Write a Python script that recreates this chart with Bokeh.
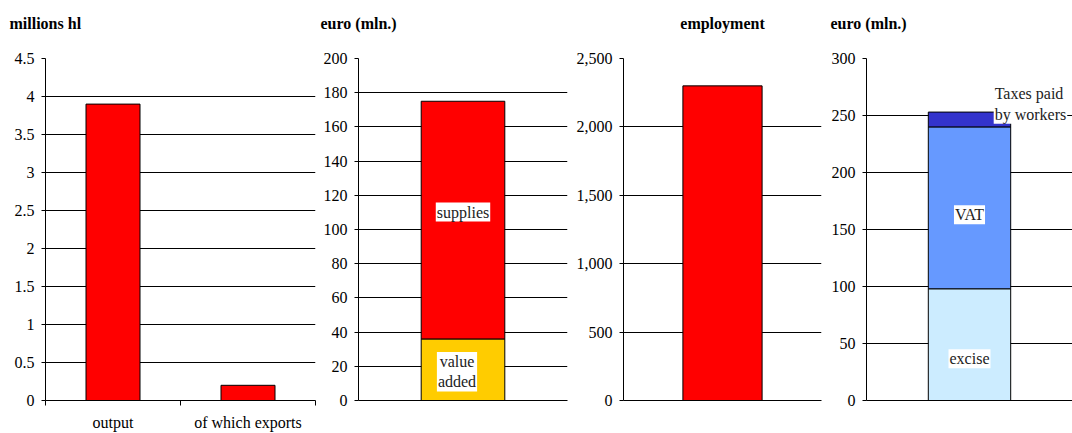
import numpy as np
from bokeh.plotting import figure
from bokeh.models import Range1d, FixedTicker, NumeralTickFormatter, Label
from bokeh.layouts import row
from bokeh.embed import file_html
from bokeh.resources import INLINE

# ---------------- data ----------------
vol_categories = ["output", "of which exports"]
vol_values = [3.9, 0.2]
vol_ticks = [0, 0.5, 1, 1.5, 2, 2.5, 3, 3.5, 4, 4.5]

rev_segments = ["value\nadded", "supplies"]
rev_values = [36, 139]
rev_ticks = [0, 20, 40, 60, 80, 100, 120, 140, 160, 180, 200]

emp_values = [2300]
emp_ticks = [0, 500, 1000, 1500, 2000, 2500]

tax_segments = ["excise", "VAT", "Taxes paid\nby workers"]
tax_values = [98, 142, 13]
tax_ticks = [0, 50, 100, 150, 200, 250, 300]

# ---------------- style ----------------
SERIF = "Liberation Serif"
H = 433
TOP = 58
BOTTOM = 32
BAR_W = 0.4
FS = "16px"


def make_fig(width, left, right, x_end, ticks, fmt, title, title_x,
             title_align="left"):
    p = figure(width=width, height=H, x_range=Range1d(0, x_end),
               y_range=Range1d(0, ticks[-1]), output_backend="svg",
               toolbar_location=None, min_border_left=left,
               min_border_right=right, min_border_top=TOP,
               min_border_bottom=BOTTOM)
    p.outline_line_color = None
    p.background_fill_color = "white"
    p.border_fill_color = "white"
    tk = FixedTicker(ticks=ticks)
    p.yaxis.ticker = tk
    p.ygrid.ticker = tk
    p.yaxis.formatter = fmt
    p.yaxis.axis_line_color = "black"
    p.yaxis.major_tick_line_color = "black"
    p.yaxis.major_tick_out = 4
    p.yaxis.major_tick_in = 0
    p.yaxis.minor_tick_line_color = None
    p.yaxis.major_label_text_font = SERIF
    p.yaxis.major_label_text_font_size = FS
    p.yaxis.major_label_text_color = "black"
    p.yaxis.major_label_standoff = 7
    p.xgrid.grid_line_color = None
    p.ygrid.grid_line_color = "black"
    p.ygrid.grid_line_alpha = 1.0
    p.ygrid.grid_line_width = 1
    p.xaxis.axis_line_color = "black"
    # trailing newline keeps an empty second line that lifts the title up
    p.title.text = title + "\n"
    p.title.align = title_align
    p.title.text_font = SERIF
    p.title.text_font_size = FS
    p.title.text_font_style = "bold"
    p.title.text_color = "black"
    p.title.standoff = 20
    if title_align == "left":
        p.title.offset = -left + title_x
    return p


def no_x_labels(p):
    p.xaxis.ticker = FixedTicker(ticks=[])
    p.xaxis.major_label_text_font_size = "0px"
    p.xaxis.major_tick_line_color = None
    p.xaxis.minor_tick_line_color = None
    p.xaxis.major_tick_out = 0
    p.xaxis.minor_tick_out = 0


def seg_label(p, x, y, text, x_off=0, y_off=0, align="center"):
    p.add_layout(Label(x=x, y=y, text=text, x_offset=x_off, y_offset=y_off,
                       text_align=align, text_baseline="middle",
                       text_font=SERIF, text_font_size=FS,
                       text_color="#222222", background_fill_color="white",
                       padding=1))


# ---------- panel 1: volume ----------
n = len(vol_categories)
p1 = make_fig(318, 45, 3, n, vol_ticks, NumeralTickFormatter(format="0.[0]"),
              "millions hl", 9)
xs = [i + 0.5 for i in range(n)]
p1.vbar(x=xs, top=vol_values, bottom=0, width=BAR_W, fill_color="#FF0000",
        line_color="black", line_width=1)
p1.xaxis.ticker = FixedTicker(ticks=xs, minor_ticks=list(range(n + 1)))
p1.xaxis.major_label_overrides = {x: c for x, c in zip(xs, vol_categories)}
p1.xaxis.major_tick_line_color = None
p1.xaxis.major_tick_out = 5
p1.xaxis.minor_tick_line_color = "black"
p1.xaxis.minor_tick_out = 5
p1.xaxis.minor_tick_in = 0
p1.xaxis.major_label_standoff = 8
p1.xaxis.major_label_text_font = SERIF
p1.xaxis.major_label_text_font_size = FS
p1.xaxis.major_label_text_color = "black"

# ---------- panel 2: revenue ----------
p2 = make_fig(254, 40, 5, 1, rev_ticks, NumeralTickFormatter(format="0"),
              "euro (mln.)", 2)
no_x_labels(p2)
rev_top = np.cumsum(rev_values)
rev_bot = rev_top - np.array(rev_values)
p2.vbar(x=[0.5] * len(rev_values), top=rev_top, bottom=rev_bot, width=BAR_W,
        fill_color=["#FFCC00", "#FF0000"], line_color="black", line_width=1)
rev_mid = (rev_top + rev_bot) / 2
seg_label(p2, 0.5, rev_mid[0], rev_segments[0], x_off=-6, y_off=-2)
seg_label(p2, 0.5, rev_mid[1], rev_segments[1], y_off=8)

# ---------- panel 3: employment ----------
p3 = make_fig(256, 51, 7, 1, emp_ticks, NumeralTickFormatter(format="0,0"),
              "employment", 0, title_align="center")
no_x_labels(p3)
p3.vbar(x=[0.5], top=emp_values, bottom=0, width=BAR_W, fill_color="#FF0000",
        line_color="black", line_width=1)

# ---------- panel 4: taxes ----------
p4 = make_fig(244, 38, 0, 1, tax_ticks, NumeralTickFormatter(format="0"),
              "euro (mln.)", 2)
no_x_labels(p4)
tax_top = np.cumsum(tax_values)
tax_bot = tax_top - np.array(tax_values)
p4.vbar(x=[0.5] * len(tax_values), top=tax_top, bottom=tax_bot, width=BAR_W,
        fill_color=["#CCECFF", "#6699FF", "#3333CC"], line_color="black",
        line_width=1)
tax_mid = (tax_top + tax_bot) / 2
seg_label(p4, 0.5, tax_mid[0], tax_segments[0], y_off=-14)
seg_label(p4, 0.5, tax_mid[1], tax_segments[1], y_off=-7)
seg_label(p4, 0.5 + BAR_W / 2, tax_top[-1], tax_segments[2], x_off=-17,
          y_off=8, align="left")

layout = row(p1, p2, p3, p4)
open("out.html", "w").write(file_html(layout, INLINE))
